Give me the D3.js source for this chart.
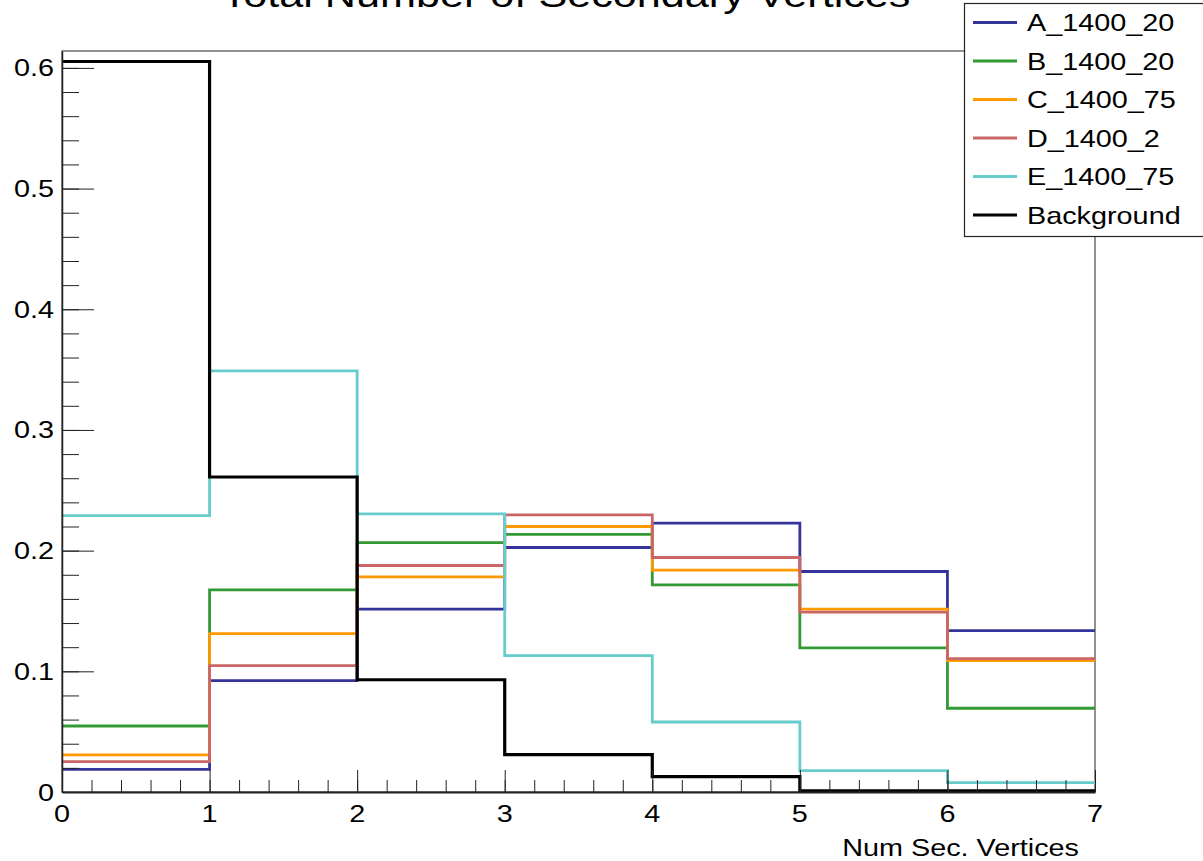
<!DOCTYPE html>
<html>
<head>
<meta charset="utf-8">
<script src="https://cdn.jsdelivr.net/npm/d3@7"></script>
<style>
  body { margin: 0; padding: 0; background: #fff; }
  svg { display: block; }
  text { font-family: "Liberation Sans", Arial, Helvetica, sans-serif; fill: #000; }
</style>
</head>
<body>
<svg id="chart"></svg>
<script>
// bin edges are 0..7, one value per bin
const binEdges = [0, 1, 2, 3, 4, 5, 6, 7];
const seriesNames = ["A_1400_20", "B_1400_20", "C_1400_75", "D_1400_2", "E_1400_75", "Background"];
const seriesColors = ["#34349a", "#339933", "#ff9900", "#cc6666", "#66cccc", "#000000"];
const valsA = [0.0188, 0.0923, 0.1515, 0.2026, 0.2228, 0.1827, 0.1338];
const valsB = [0.0547, 0.1675, 0.2067, 0.2134, 0.1716, 0.1194, 0.0694];
const valsC = [0.0307, 0.1313, 0.1783, 0.2200, 0.1838, 0.1515, 0.1089];
const valsD = [0.0251, 0.1047, 0.1877, 0.2297, 0.1943, 0.1490, 0.1105];
const valsE = [0.2290, 0.3490, 0.2305, 0.1130, 0.0580, 0.0177, 0.0077];
const valsBkg = [0.6053, 0.2610, 0.0930, 0.0310, 0.0127, 0.0010, 0.0010];
const yTickVals = [0, 0.1, 0.2, 0.3, 0.4, 0.5, 0.6];
const xTickVals = [0, 1, 2, 3, 4, 5, 6, 7];
const titleText = "Total Number of Secondary Vertices";
const xTitle = "Num Sec. Vertices";

const allVals = [valsA, valsB, valsC, valsD, valsE, valsBkg];

const W = 1203, H = 861;
const padL = 62, padR = 1095, padT = 51, padB = 792;
const sx = 1.2; // text is drawn a bit wide in the original
const yMax = 0.614;

const svg = d3.select("#chart").attr("width", W).attr("height", H);

const x = d3.scaleLinear().domain([0, 7]).range([padL, padR]);
const y = d3.scaleLinear().domain([0, yMax]).range([padB, padT]);

function wideText(g, px, py, str, size, anchor) {
    return g.append("text")
        .attr("transform", `translate(${px},${py}) scale(${sx},1)`)
        .attr("text-anchor", anchor)
        .style("font-size", size + "px")
        .text(str);
}

// frame
svg.append("rect")
    .attr("x", padL).attr("y", padT)
    .attr("width", padR - padL).attr("height", padB - padT)
    .style("fill", "none").style("stroke", "#222").style("stroke-width", 1);

// histograms
const line = d3.line()
    .x(d => x(d[0]))
    .y(d => y(d[1]))
    .curve(d3.curveStepAfter);

allVals.forEach((vals, k) => {
    let pts = vals.map((v, i) => [binEdges[i], v]);
    pts.push([binEdges[vals.length], vals[vals.length - 1]]);
    svg.append("path")
        .attr("d", line(pts))
        .style("fill", "none")
        .style("stroke", seriesColors[k])
        .style("stroke-width", k === 5 ? 3.2 : 2.8);
});

// y axis, major + minor ticks pointing inward
const yMinor = d3.range(0, 0.61, 0.02);
svg.append("g")
    .attr("transform", `translate(${padL},0)`)
    .call(d3.axisLeft(y).tickValues(yMinor).tickSizeInner(-17).tickSizeOuter(0).tickFormat(""))
    .call(g => g.select(".domain").remove())
    .call(g => g.selectAll("line").style("stroke", "#222"));
const yAx = svg.append("g")
    .attr("transform", `translate(${padL},0)`)
    .call(d3.axisLeft(y).tickValues(yTickVals).tickSizeInner(-32).tickSizeOuter(0).tickFormat(() => ""));
yAx.select(".domain").style("stroke", "#222").style("stroke-width", 1.5);
yAx.selectAll("line").style("stroke", "#222");
yTickVals.forEach(v => {
    wideText(svg, padL - 8, y(v) + 8.5, v === 0 ? "0" : v.toFixed(1), 24, "end");
});

// x axis
const xMinor = d3.range(0, 7.01, 0.2);
svg.append("g")
    .attr("transform", `translate(0,${padB})`)
    .call(d3.axisBottom(x).tickValues(xMinor).tickSizeInner(-12).tickSizeOuter(0).tickFormat(""))
    .call(g => g.select(".domain").remove())
    .call(g => g.selectAll("line").style("stroke", "#222"));
const xAx = svg.append("g")
    .attr("transform", `translate(0,${padB})`)
    .call(d3.axisBottom(x).tickValues(xTickVals).tickSizeInner(-22).tickSizeOuter(0).tickFormat(() => ""));
xAx.select(".domain").style("stroke", "#222").style("stroke-width", 2);
xAx.selectAll("line").style("stroke", "#222");
xTickVals.forEach(v => {
    wideText(svg, x(v), padB + 30, String(v), 24, "middle");
});

// axis title
wideText(svg, 1079, 856, xTitle, 24, "end");

// title, cut at the top edge like the original
wideText(svg, 566, 7, titleText, 36, "middle");

// legend
const leg = svg.append("g");
leg.append("rect")
    .attr("x", 964.5).attr("y", 3.5)
    .attr("width", 240).attr("height", 233)
    .style("fill", "#fff").style("stroke", "#222").style("stroke-width", 1.2);
seriesNames.forEach((name, i) => {
    let cy = 22.5 + i * 38.5;
    leg.append("line")
        .attr("x1", 973).attr("x2", 1017)
        .attr("y1", cy).attr("y2", cy)
        .style("stroke", seriesColors[i])
        .style("stroke-width", 3);
    wideText(leg, 1027, cy + 8.5, name, 24, "start");
});
</script>
</body>
</html>
